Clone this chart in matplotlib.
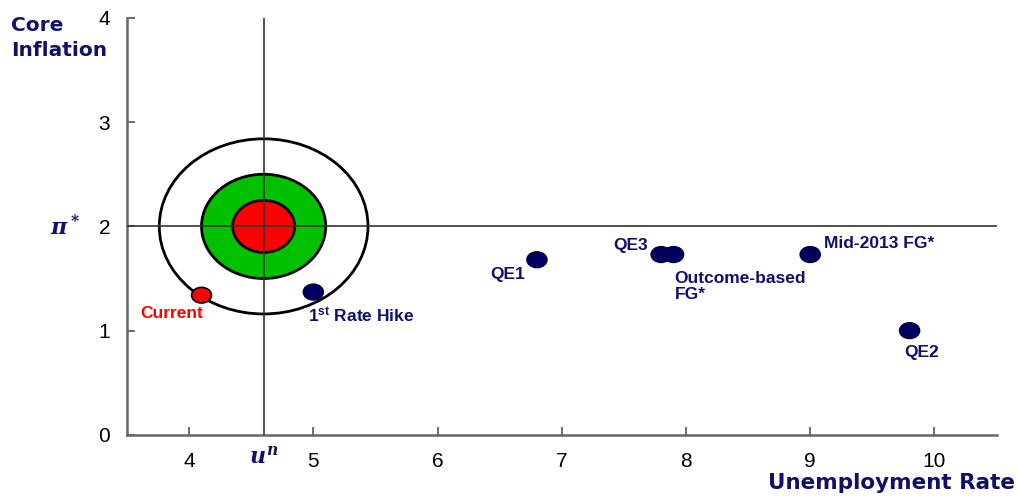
import matplotlib
matplotlib.use('Agg')
import matplotlib.pyplot as plt
from matplotlib.patches import Ellipse, Circle

# data
names = ['Current', '1$^{\\mathsf{st}}$ Rate Hike', 'QE1', 'QE3', 'Outcome-based\nFG*', 'Mid-2013 FG*', 'QE2']
unemp = [4.1, 5.0, 6.8, 7.8, 7.9, 9.0, 9.8]
infl = [1.34, 1.37, 1.68, 1.73, 1.73, 1.73, 1.0]
u_star = 4.6
pi_star = 2.0
rings = [0.84, 0.5, 0.25]
x_ticks = [4, 5, 6, 7, 8, 9, 10]
y_ticks = [0, 1, 2, 3, 4]

navy = '#10106a'
# label placement (pixel offsets from point, ha, va)
lab_pos = {
    'Current': ((-30, -18), 'center', 'center'),
    '1$^{\\mathsf{st}}$ Rate Hike': ((-5, -23), 'left', 'center'),
    'QE1': ((-12, -15), 'right', 'center'),
    'QE3': ((-13, 9), 'right', 'center'),
    'Outcome-based\nFG*': ((1, -16), 'left', 'top'),
    'Mid-2013 FG*': ((14, 11), 'left', 'center'),
    'QE2': ((12, -22), 'center', 'center'),
}

plt.rcParams['mathtext.fontset'] = 'custom'
plt.rcParams['mathtext.it'] = 'DejaVu Serif:bold:italic'
plt.rcParams['mathtext.rm'] = 'DejaVu Serif:bold'
plt.rcParams['mathtext.sf'] = 'Liberation Sans:bold'

fig = plt.figure(figsize=(10.2, 4.97), dpi=100)
ax = fig.add_axes([0.1245, 0.125, 0.8525, 0.839])

ax.set_xlim(3.5, 10.5)
ax.set_ylim(0, 4)

# target rings
ax.add_patch(Circle((u_star, pi_star), rings[0], facecolor='white', edgecolor='black', lw=2, zorder=2))
ax.add_patch(Circle((u_star, pi_star), rings[1], facecolor='#00c000', edgecolor='black', lw=2, zorder=2))
ax.add_patch(Circle((u_star, pi_star), rings[2], facecolor='#ff0000', edgecolor='black', lw=2, zorder=2))

# reference lines
ax.axhline(pi_star, color='#333333', lw=1.2, zorder=3)
ax.axvline(u_star, color='#333333', lw=1.2, zorder=3)

# points
for n, xv, yv in zip(names, unemp, infl):
    fc = '#ff0000' if n == 'Current' else '#000060'
    ec = 'black' if n == 'Current' else '#000040'
    ax.add_patch(Ellipse((xv, yv), 0.16, 0.15, facecolor=fc, edgecolor=ec, lw=1.2, zorder=4))
    off, ha, va = lab_pos[n]
    col = '#ff0000' if n == 'Current' else navy
    ax.annotate(n, (xv, yv), xytext=off, textcoords='offset pixels', ha=ha, va=va,
                fontsize=12.5, fontweight='bold', color=col, family='Liberation Sans',
                linespacing=1.1, zorder=5)

ax.set_xticks(x_ticks)
ax.set_yticks(y_ticks)
ax.tick_params(direction='in', length=6, width=1.2, color='#555555', labelsize=15, pad=12)
for lab in ax.get_xticklabels() + ax.get_yticklabels():
    lab.set_family('Liberation Sans')
for s in ['top', 'right']:
    ax.spines[s].set_visible(False)
for s in ['left', 'bottom']:
    ax.spines[s].set_color('#666666')
    ax.spines[s].set_linewidth(1.8)

# axis names
fig.text(0.011, 0.968, 'Core', ha='left', va='top', fontsize=14.5, fontweight='bold', color=navy)
fig.text(0.011, 0.917, 'Inflation', ha='left', va='top', fontsize=14.5, fontweight='bold', color=navy)
fig.text(0.995, 0.008, 'Unemployment Rate', ha='right', va='bottom', fontsize=15.5,
         fontweight='bold', color=navy)
ax.annotate(r'$\pi^*$', (3.5, pi_star), xytext=(-62, 0), textcoords='offset pixels',
            ha='center', va='center', fontsize=16, color=navy, annotation_clip=False)
ax.annotate(r'$u^n$', (u_star, 0), xytext=(0, -22), textcoords='offset pixels',
            ha='center', va='center', fontsize=16, color=navy, annotation_clip=False)

fig.savefig('out.png', dpi=100)
